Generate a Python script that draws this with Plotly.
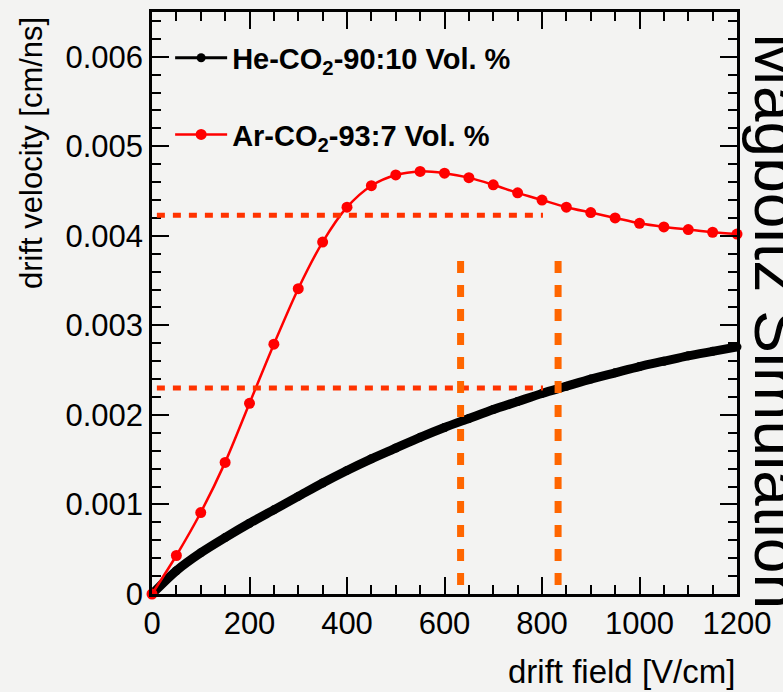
import plotly.graph_objects as go

# Drift field grid [V/cm]
field = [0, 50, 100, 150, 200, 250, 300, 350, 400, 450, 500, 550, 600,
         650, 700, 750, 800, 850, 900, 950, 1000, 1050, 1100, 1150, 1200]

# Drift velocity [cm/ns], He-CO2 90:10
v_he = [0.0, 0.00026, 0.00046, 0.00063, 0.00079, 0.00094, 0.00109, 0.00124,
        0.00138, 0.00151, 0.00163, 0.00175, 0.00186, 0.00196, 0.00206, 0.00215,
        0.00224, 0.00232, 0.00240, 0.00247, 0.00254, 0.00260, 0.00266, 0.00271,
        0.00276]

# Drift velocity [cm/ns], Ar-CO2 93:7
v_ar = [0.0, 0.00043, 0.00091, 0.00147, 0.00213, 0.00279, 0.00341, 0.00393,
        0.00432, 0.00456, 0.00468, 0.00472, 0.00470, 0.00465, 0.00457, 0.00448,
        0.00440, 0.00432, 0.00426, 0.00420, 0.00414, 0.00410, 0.00407, 0.00404,
        0.00402]

# Reference read-off lines
h_levels = [0.0023, 0.00423]          # horizontal guides (velocity)
h_span = [10, 802]                    # field extent of horizontal guides
v_fields = [633, 833]                 # vertical guides (field)
v_span = [0.0001, 0.00373]            # velocity extent of vertical guides

y_ticks = [0, 0.001, 0.002, 0.003, 0.004, 0.005, 0.006]
y_ticktext = ["0", "0.001", "0.002", "0.003", "0.004", "0.005", "0.006"]
x_ticks = [0, 200, 400, 600, 800, 1000, 1200]

BG = "rgb(243,243,242)"
FONT = "Liberation Sans, Arial, sans-serif"

fig = go.Figure()

# He-CO2: thin line + markers carry the legend entry, thick curve drawn over it
fig.add_trace(go.Scatter(
    x=field, y=v_he, mode="lines+markers", name="<b>He-CO<sub>2</sub>-90:10 Vol. %</b>",
    line=dict(color="black", width=3, shape="spline", smoothing=0.8),
    marker=dict(color="black", size=9), cliponaxis=False, legendgroup="he",
))
fig.add_trace(go.Scatter(
    x=field, y=v_he, mode="lines", showlegend=False,
    line=dict(color="black", width=9, shape="spline", smoothing=0.8),
    cliponaxis=False, legendgroup="he", hoverinfo="skip",
))
fig.add_trace(go.Scatter(
    x=field, y=v_ar, mode="lines+markers", name="<b>Ar-CO<sub>2</sub>-93:7 Vol. %</b>",
    line=dict(color="red", width=2.5, shape="spline", smoothing=0.8),
    marker=dict(color="red", size=11), cliponaxis=False, legendgroup="ar",
))

for lev in h_levels:
    fig.add_shape(type="line", xref="x", yref="y", x0=h_span[0], x1=h_span[1], y0=lev, y1=lev,
                  line=dict(color="rgb(255,51,0)", width=5, dash="8px,8px"), layer="above")
for fv in v_fields:
    fig.add_shape(type="line", xref="x", yref="y", x0=fv, x1=fv, y0=v_span[0], y1=v_span[1],
                  line=dict(color="rgb(255,102,0)", width=7, dash="12px,12px"), layer="above")

axis_common = dict(
    showline=True, linecolor="black", linewidth=2.5, mirror="allticks",
    ticks="inside", tickcolor="black", tickwidth=2, showgrid=False, zeroline=False,
    tickfont=dict(family=FONT, size=31, color="black"),
)
fig.update_xaxes(range=[0, 1200], tickvals=x_ticks, ticklen=17,
                 minor=dict(dtick=50, ticks="inside", ticklen=9, tickwidth=2, tickcolor="black", showgrid=False),
                 **axis_common)
fig.update_yaxes(range=[0, 0.0065], tickvals=y_ticks, ticktext=y_ticktext, ticklen=17,
                 minor=dict(dtick=0.0002, ticks="inside", ticklen=9, tickwidth=2, tickcolor="black", showgrid=False),
                 **axis_common)

fig.add_annotation(text="drift field [V/cm]", xref="paper", yref="paper", x=1.0, y=-0.133,
                   xanchor="right", yanchor="middle", showarrow=False,
                   font=dict(family=FONT, size=33, color="black"))
fig.add_annotation(text="drift velocity [cm/ns]", xref="paper", yref="paper", x=-0.205, y=0.995,
                   xanchor="center", yanchor="top", textangle=-90, showarrow=False,
                   font=dict(family=FONT, size=31, color="black"))
fig.add_annotation(text="Magboltz Simulation", xref="paper", yref="paper", x=1.003, y=0.47,
                   xanchor="left", yanchor="middle", textangle=90, showarrow=False,
                   font=dict(family=FONT, size=64, color="black"))

fig.update_layout(
    width=783, height=692,
    margin=dict(l=152, r=46, t=9, b=98),
    paper_bgcolor=BG, plot_bgcolor=BG,
    showlegend=True,
    legend=dict(x=0.031, y=0.965, xanchor="left", yanchor="top", bgcolor="rgba(0,0,0,0)",
                font=dict(family=FONT, size=29, color="black"), tracegroupgap=36,
                itemwidth=52),
)

fig.write_html("out.html")
